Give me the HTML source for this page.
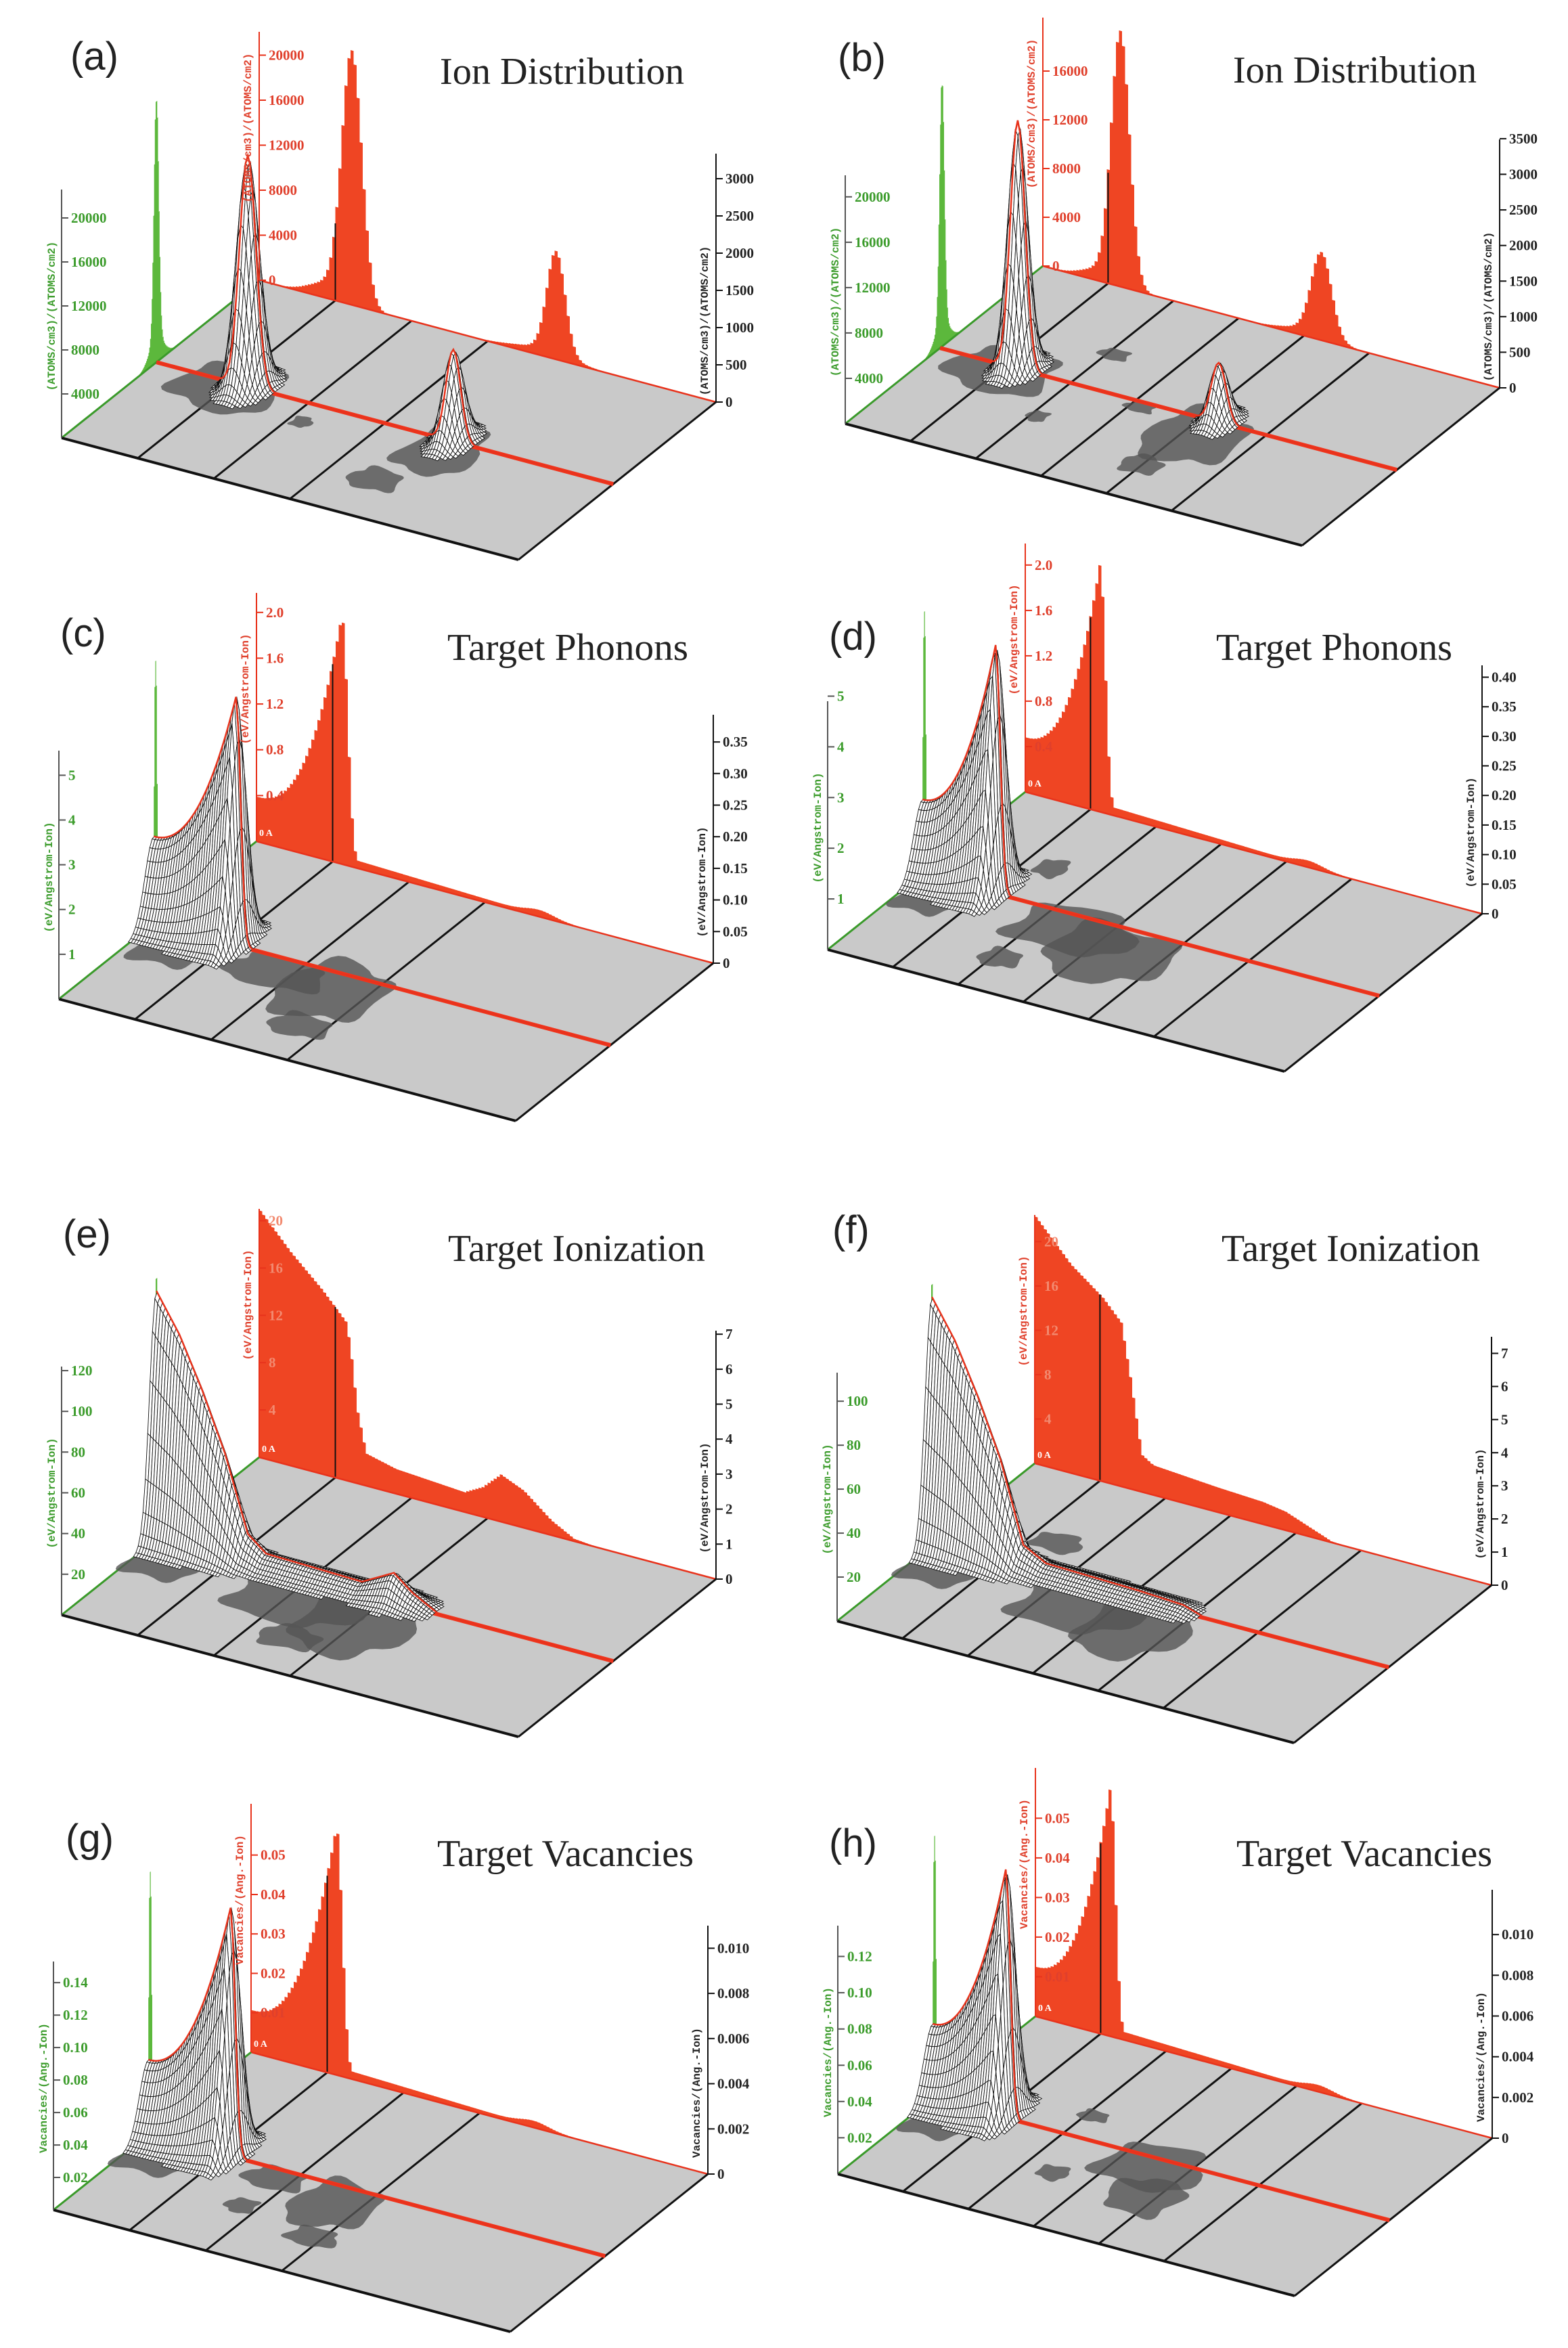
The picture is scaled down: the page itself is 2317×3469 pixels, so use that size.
<!DOCTYPE html>
<html><head><meta charset="utf-8"><style>
html,body{margin:0;padding:0;background:#fff;}
svg{display:block;}
</style></head><body>
<svg id="s" xmlns="http://www.w3.org/2000/svg" width="2317" height="3469" viewBox="0 0 2317 3469"></svg>
<script>
function G(x,m,s){return Math.exp(-0.5*Math.pow((x-m)/s,2));}
function pw(pts){return function(d){for(var i=0;i<pts.length-1;i++){if(d>=pts[i][0]&&d<=pts[i+1][0]){var t=(d-pts[i][0])/(pts[i+1][0]-pts[i][0]);return pts[i][1]+t*(pts[i+1][1]-pts[i][1]);}}return 0;};}
function skewRed(st,pk,sd){return function(d){var v=d<pk?st+(1-st)*Math.pow(d/pk,2.5):Math.exp(-Math.pow((d-pk)/sd,2));v=Math.max(v,d<0.72?0.035*(1-(d-0.15)/0.6):0)+0.02*G(d,0.62,0.03);return v;};}
function skewMesh(st,pk,sd){return function(d){return d<pk?st+(1-st)*Math.pow(d/pk,2.2):Math.exp(-Math.pow((d-pk)/sd,2));};}
function rng(a,b,s){var r=[];for(var v=a;v<=b+1e-9;v+=s)r.push(v);return r;}
var P=[
{id:'a',bx:383,by:414,n:[1/6,2/6,3/6],lab:[104,103],tt:'Ion Distribution',tx:[650,124,361],
 red:function(d){return G(d,.203,.022)+.41*G(d,.65,.02)+.06*G(d,.15,.04)+.03*G(d,.62,.06);},
 mesh:function(d){return .93*G(d,.2,.018)+.37*G(d,.65,.016);},sl:.04,
 blobs:[[.17,.55,.1,.13],[.36,.62,.02,.03],[.65,.58,.07,.14],[.6,.8,.05,.06]],
 green:function(l){return G(l,.52,.012)+.1*G(l,.52,.035);},
 gT:[22585,[4000,8000,12000,16000,20000],null],rT:[22075,[0,4000,8000,12000,16000,20000],null],bT:[3336,rng(0,3000,500),null],ax:'(ATOMS/cm3)/(ATOMS/cm2)',oA:false},
{id:'b',bx:1541,by:393,n:[1/7,2/7,3/7,4/7,5/7],lab:[1238,105],tt:'Ion Distribution',tx:[1822,122,360],
 red:function(d){return G(d,.17,.02)+.33*G(d,.61,.022)+.05*G(d,.13,.04)+.03*G(d,.58,.05);},
 mesh:function(d){return G(d,.17,.016)+.24*G(d,.61,.016);},sl:.035,
 blobs:[[.15,.55,.1,.12],[.3,.33,.03,.03],[.45,.55,.03,.025],[.3,.72,.02,.03],[.6,.62,.09,.15],[.57,.82,.04,.05]],
 green:function(l){return G(l,.51,.012)+.1*G(l,.51,.035);},
 gT:[21900,[4000,8000,12000,16000,20000],null],rT:[20390,[0,4000,8000,12000,16000],null],bT:[3490,rng(0,3500,500),null],ax:'(ATOMS/cm3)/(ATOMS/cm2)',oA:false},
{id:'c',bx:379,by:1243,n:[1/6,2/6,3/6],lab:[89,955],tt:'Target Phonons',tx:[661,975,356],
 red:skewRed(.18,.187,.018),mesh:skewMesh(.35,.18,.014),sl:.045,
 blobs:[[.08,.6,.07,.12],[.3,.6,.1,.08],[.43,.62,.1,.16],[.45,.82,.06,.06]],
 green:function(l){return G(l,.51,.006)+.15*G(l,.51,.02);},
 gT:[5.55,[1,2,3,4,5],null],rT:[2.17,[.4,.8,1.2,1.6,2.0],['0.4','0.8','1.2','1.6','2.0']],bT:[.393,rng(0,.35,.05),['0','0.05','0.10','0.15','0.20','0.25','0.30','0.35']],ax:'(eV/Angstrom-Ion)',oA:true},
{id:'d',bx:1515,by:1170,n:[1/7,2/7,3/7,4/7,5/7],lab:[1225,960],tt:'Target Phonons',tx:[1797,975,349],
 red:skewRed(.22,.164,.016),mesh:skewMesh(.3,.16,.014),sl:.045,
 blobs:[[.06,.6,.06,.12],[.2,.33,.03,.05],[.36,.6,.12,.12],[.47,.66,.12,.15],[.3,.82,.04,.05]],
 green:function(l){return G(l,.51,.006)+.15*G(l,.51,.02);},
 gT:[4.9,[1,2,3,4,5],null],rT:[2.19,[.4,.8,1.2,1.6,2.0],['0.4','0.8','1.2','1.6','2.0']],bT:[.42,rng(0,.4,.05),['0','0.05','0.10','0.15','0.20','0.25','0.30','0.35','0.40']],ax:'(eV/Angstrom-Ion)',oA:true},
{id:'e',bx:383,by:2153,n:[1/6,2/6,3/6],lab:[93,1843],tt:'Target Ionization',tx:[662,1863,380],
 red:pw([[0,1],[.07,.86],[.14,.74],[.19,.64],[.2,.55],[.215,.3],[.235,.13],[.3,.1],[.45,.08],[.49,.12],[.53,.19],[.58,.15],[.64,.06],[.69,.01],[.75,0],[1,0]]),
 mesh:pw([[0,1],[.05,.85],[.1,.65],[.15,.42],[.2,.12],[.24,.06],[.45,.05],[.5,.1],[.52,.12],[.56,.06],[.62,0],[1,0]]),sl:.035,
 blobs:[[.06,.6,.07,.12],[.35,.64,.13,.12],[.5,.68,.11,.16],[.42,.82,.06,.06]],
 green:function(l){return G(l,.52,.006)+.12*G(l,.52,.02);},
 gT:[122,[20,40,60,80,100,120],null],rT:[21,[4,8,12,16,20],null],bT:[7.1,[0,1,2,3,4,5,6,7],null],ax:'(eV/Angstrom-Ion)',oA:true,faint:true},
{id:'f',bx:1529,by:2162,n:[1/7,2/7,3/7,4/7,5/7],lab:[1230,1837],tt:'Target Ionization',tx:[1805,1863,382],
 red:pw([[0,1],[.08,.84],[.15,.74],[.19,.66],[.21,.45],[.235,.15],[.26,.12],[.4,.1],[.5,.09],[.55,.075],[.6,.04],[.65,.005],[.7,0],[1,0]]),
 mesh:pw([[0,1],[.05,.85],[.1,.65],[.15,.42],[.2,.1],[.25,.05],[.45,.04],[.55,.03],[.6,0],[1,0]]),sl:.035,
 blobs:[[.06,.6,.07,.12],[.2,.35,.05,.05],[.36,.63,.12,.13],[.5,.66,.1,.16]],
 green:function(l){return G(l,.52,.006)+.12*G(l,.52,.02);},
 gT:[113,[20,40,60,80,100],null],rT:[22.4,[4,8,12,16,20],null],bT:[7.5,[0,1,2,3,4,5,6,7],null],ax:'(eV/Angstrom-Ion)',oA:true,faint:true},
{id:'g',bx:371,by:3032,n:[1/6,2/6,3/6],lab:[97,2736],tt:'Target Vacancies',tx:[646,2757,379],
 red:skewRed(.17,.187,.018),mesh:skewMesh(.3,.18,.014),sl:.045,
 blobs:[[.06,.6,.07,.12],[.3,.57,.06,.06],[.3,.74,.03,.04],[.45,.62,.08,.13],[.48,.8,.05,.05]],
 green:function(l){return G(l,.51,.006)+.15*G(l,.51,.02);},
 gT:[.153,[.02,.04,.06,.08,.10,.12,.14],['0.02','0.04','0.06','0.08','0.10','0.12','0.14']],rT:[.063,[.01,.02,.03,.04,.05],['0.01','0.02','0.03','0.04','0.05']],bT:[.011,[0,.002,.004,.006,.008,.010],['0','0.002','0.004','0.006','0.008','0.010']],ax:'Vacancies/(Ang.-Ion)',oA:true},
{id:'h',bx:1530,by:2979,n:[1/7,2/7,3/7,4/7,5/7],lab:[1225,2743],tt:'Target Vacancies',tx:[1827,2757,378],
 red:skewRed(.2,.164,.016),mesh:skewMesh(.3,.16,.014),sl:.045,
 blobs:[[.06,.6,.06,.12],[.3,.4,.03,.03],[.35,.72,.03,.04],[.5,.57,.1,.12],[.55,.72,.07,.1]],
 green:function(l){return G(l,.51,.006)+.15*G(l,.51,.02);},
 gT:[.137,[.02,.04,.06,.08,.10,.12],['0.02','0.04','0.06','0.08','0.10','0.12']],rT:[.0627,[.01,.02,.03,.04,.05],['0.01','0.02','0.03','0.04','0.05']],bT:[.0122,[0,.002,.004,.006,.008,.010],['0','0.002','0.004','0.006','0.008','0.010']],ax:'Vacancies/(Ang.-Ion)',oA:true}
];
var H=367,out=[];
function pt(p,d,l,z){return (p.bx+d*675-l*292).toFixed(1)+','+(p.by+d*180+l*233-z*H).toFixed(1);}
function ticks(x,y0,T,col,out){
  var vmax=T[0],vals=T[1],labs=T[2];
  out.push('<line x1="'+x+'" y1="'+y0+'" x2="'+x+'" y2="'+(y0-H)+'" stroke="'+(col.axis)+'" stroke-width="2"/>');
  for(var i=0;i<vals.length;i++){var y=y0-vals[i]/vmax*H;
    out.push('<line x1="'+x+'" y1="'+y.toFixed(1)+'" x2="'+(x+10)+'" y2="'+y.toFixed(1)+'" stroke="'+col.axis+'" stroke-width="2"/>');
    out.push('<text x="'+(x+14)+'" y="'+(y+7).toFixed(1)+'" font-family="Liberation Serif,serif" font-weight="bold" font-size="21" fill="'+col.txt+'">'+(labs?labs[i]:String(vals[i]))+'</text>');}
}
P.forEach(function(p){
  var o=[];
  o.push('<polygon points="'+pt(p,0,0,0)+' '+pt(p,1,0,0)+' '+pt(p,1,1,0)+' '+pt(p,0,1,0)+'" fill="#c9c9c9"/>');
  var N=150,s=pt(p,0,0,0);
  for(var i=0;i<N;i++){var d0=i/N,d1=(i+1)/N,v=Math.min(1.05,p.red((d0+d1)/2));s+=' '+pt(p,d0,0,v)+' '+pt(p,d1,0,v);}
  s+=' '+pt(p,1,0,0);
  o.push('<polygon points="'+s+'" fill="#ef4523"/>');
  function L2(a,b,c,w){var A=a.split(','),B=b.split(',');return '<line x1="'+A[0]+'" y1="'+A[1]+'" x2="'+B[0]+'" y2="'+B[1]+'" stroke="'+c+'" stroke-width="'+w+'"/>';}
  var f1=p.n[0];o.push(L2(pt(p,f1,0,0),pt(p,f1,0,p.red(f1)),'#111',2));
  s=pt(p,0,0,0);N=250;
  for(var i=0;i<N;i++){var l0=i/N,l1=(i+1)/N,v=Math.min(1.05,p.green((l0+l1)/2));s+=' '+pt(p,0,l0,v)+' '+pt(p,0,l1,v);}
  s+=' '+pt(p,0,1,0);
  o.push('<polygon points="'+s+'" fill="#5cb83c"/>');
  p.n.forEach(function(f){o.push(L2(pt(p,f,0,0),pt(p,f,1,0),'#111',3));});
  o.push(L2(pt(p,0,0,0),pt(p,1,0,0),'#e8331c',2.5));
  o.push(L2(pt(p,0,0,0),pt(p,0,1,0),'#3a9a2a',3));
  o.push(L2(pt(p,1,0,0),pt(p,1,1,0),'#111',3));
  o.push(L2(pt(p,0,1,0),pt(p,1,1,0),'#111',4));
  // dark blobs on floor
  p.blobs.forEach(function(b){var s='';for(var k=0;k<48;k++){var a=k/48*2*Math.PI,c=Math.cos(a),sn=Math.sin(a);
    var r=1+0.12*Math.sin(5*a+b[0]*40)+0.08*Math.cos(3*a+b[1]*30);
    var cc=Math.sign(c)*Math.pow(Math.abs(c),0.7),ss=Math.sign(sn)*Math.pow(Math.abs(sn),0.7);
    s+=pt(p,b[0]+b[2]*r*cc,b[1]+b[3]*r*ss,0)+' ';}
    o.push('<polygon points="'+s+'" fill="#555" fill-opacity="0.8"/>');});
  o.push(L2(pt(p,0,.52,0),pt(p,1,.52,0),'#f0341c',6));
  function Z(d,l){return p.mesh(d)*G(l,.52,p.sl);}
  var q=[],sd=.006,sl=.012;
  for(var d=0;d<1-1e-9;d+=sd){for(var l=0;l<1-1e-9;l+=sl){
    var z1=Z(d,l),z2=Z(d+sd,l),z3=Z(d+sd,l+sl),z4=Z(d,l+sl);
    if(Math.max(z1,z2,z3,z4)>.008){q.push([180*(d+sd/2)+233*(l+sl/2),pt(p,d,l,z1)+' '+pt(p,d+sd,l,z2)+' '+pt(p,d+sd,l+sl,z3)+' '+pt(p,d,l+sl,z4)]);}
  }}
  q.sort(function(a,b){return a[0]-b[0];});
  o.push('<g fill="#fff" stroke="#111" stroke-width="0.9">');
  q.forEach(function(x){o.push('<polygon points="'+x[1]+'"/>');});
  o.push('</g>');
  s='';for(var i=0;i<=200;i++){var d=i/200;s+=pt(p,d,.52,Z(d,.52))+' ';}
  o.push('<polyline points="'+s+'" fill="none" stroke="#e8331c" stroke-width="2.5"/>');
  var gx=p.bx-292,gy=p.by+233,bx=p.bx+675,by=p.by+180;
  ticks(gx,gy,p.gT,{axis:'#555',txt:'#3c9c2c'},o);
  ticks(p.bx,p.by,p.rT,{axis:'#e8331c',txt:p.faint?'#f28a70':'#e0402c'},o);
  ticks(bx,by,p.bT,{axis:'#111',txt:'#222'},o);
  if(p.oA)o.push('<text x="'+(p.bx+4)+'" y="'+(p.by-8)+'" font-family="Liberation Serif,serif" font-weight="bold" font-size="14" fill="#fff">0 A</text>');
  function rt(x,y,c){o.push('<text transform="translate('+x+','+y+') rotate(-90)" text-anchor="middle" font-family="Liberation Mono,monospace" font-weight="bold" font-size="16" fill="'+c+'">'+p.ax+'</text>');}
  rt(gx-10,gy-180,'#3c9c2c');rt(bx-12,by-120,'#222');rt(p.bx-12,p.by-225,'#e0402c');
  o.push('<text x="'+p.lab[0]+'" y="'+p.lab[1]+'" font-family="Liberation Sans,sans-serif" font-size="58" fill="#222">('+p.id+')</text>');
  o.push('<text x="'+p.tx[0]+'" y="'+p.tx[1]+'" textLength="'+p.tx[2]+'" lengthAdjust="spacingAndGlyphs" font-family="Liberation Serif,serif" font-size="56" fill="#222">'+p.tt+'</text>');
  out.push(o.join(''));
});
document.getElementById('s').innerHTML=out.join('');
</script>
</body></html>
